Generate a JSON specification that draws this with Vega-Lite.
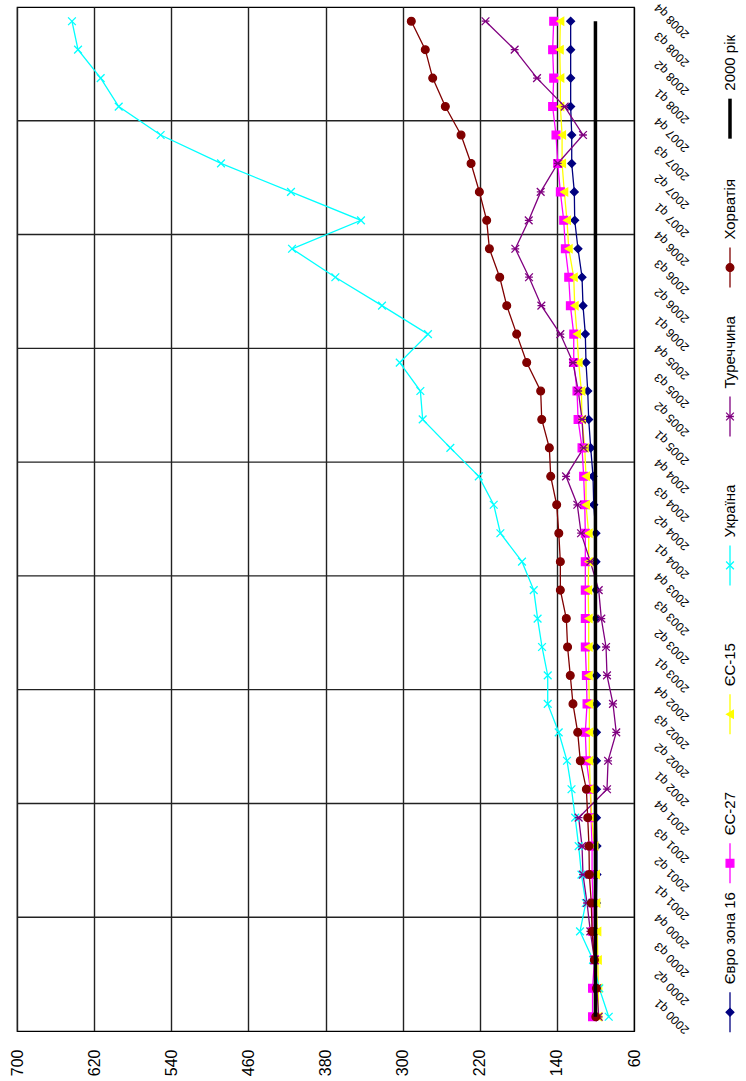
{
  "$schema": "https://vega.github.io/schema/vega-lite/v6.json",
  "background": "white",
  "padding": {"left": 8, "top": 0, "right": 0, "bottom": 0},
  "config": {
    "font": "Liberation Sans",
    "view": {"stroke": "#000", "strokeWidth": 1.2}
  },
  "spacing": 26,
  "data": {"values": [
    {"q":"2000 q1","s":"Євро зона 16","v":99},{"q":"2000 q2","s":"Євро зона 16","v":99},{"q":"2000 q3","s":"Євро зона 16","v":99.5},{"q":"2000 q4","s":"Євро зона 16","v":99.5},
    {"q":"2001 q1","s":"Євро зона 16","v":99},{"q":"2001 q2","s":"Євро зона 16","v":98.5},{"q":"2001 q3","s":"Євро зона 16","v":98.5},{"q":"2001 q4","s":"Євро зона 16","v":99},
    {"q":"2002 q1","s":"Євро зона 16","v":99},{"q":"2002 q2","s":"Євро зона 16","v":99},{"q":"2002 q3","s":"Євро зона 16","v":99},{"q":"2002 q4","s":"Євро зона 16","v":99},
    {"q":"2003 q1","s":"Євро зона 16","v":99},{"q":"2003 q2","s":"Євро зона 16","v":99.5},{"q":"2003 q3","s":"Євро зона 16","v":99.5},{"q":"2003 q4","s":"Євро зона 16","v":99.5},
    {"q":"2004 q1","s":"Євро зона 16","v":99.5},{"q":"2004 q2","s":"Євро зона 16","v":99.5},{"q":"2004 q3","s":"Євро зона 16","v":101.8},{"q":"2004 q4","s":"Євро зона 16","v":102.5},
    {"q":"2005 q1","s":"Євро зона 16","v":104.9},{"q":"2005 q2","s":"Євро зона 16","v":107},{"q":"2005 q3","s":"Євро зона 16","v":108},{"q":"2005 q4","s":"Євро зона 16","v":109.8},
    {"q":"2006 q1","s":"Євро зона 16","v":110.5},{"q":"2006 q2","s":"Євро зона 16","v":112.9},{"q":"2006 q3","s":"Євро зона 16","v":113.9},{"q":"2006 q4","s":"Євро зона 16","v":118.1},
    {"q":"2007 q1","s":"Євро зона 16","v":121.5},{"q":"2007 q2","s":"Євро зона 16","v":121.9},{"q":"2007 q3","s":"Євро зона 16","v":124.6},{"q":"2007 q4","s":"Євро зона 16","v":124.6},
    {"q":"2008 q1","s":"Євро зона 16","v":125.7},{"q":"2008 q2","s":"Євро зона 16","v":125.7},{"q":"2008 q3","s":"Євро зона 16","v":125.7},{"q":"2008 q4","s":"Євро зона 16","v":125.7},

    {"q":"2000 q1","s":"ЄС-27","v":103},{"q":"2000 q2","s":"ЄС-27","v":103},{"q":"2000 q3","s":"ЄС-27","v":101},{"q":"2000 q4","s":"ЄС-27","v":102.8},
    {"q":"2001 q1","s":"ЄС-27","v":102.5},{"q":"2001 q2","s":"ЄС-27","v":103.5},{"q":"2001 q3","s":"ЄС-27","v":103.5},{"q":"2001 q4","s":"ЄС-27","v":104.5},
    {"q":"2002 q1","s":"ЄС-27","v":105.3},{"q":"2002 q2","s":"ЄС-27","v":109.4},{"q":"2002 q3","s":"ЄС-27","v":110.5},{"q":"2002 q4","s":"ЄС-27","v":108.7},
    {"q":"2003 q1","s":"ЄС-27","v":109.4},{"q":"2003 q2","s":"ЄС-27","v":110.5},{"q":"2003 q3","s":"ЄС-27","v":110.5},{"q":"2003 q4","s":"ЄС-27","v":110.5},
    {"q":"2004 q1","s":"ЄС-27","v":110.5},{"q":"2004 q2","s":"ЄС-27","v":110.5},{"q":"2004 q3","s":"ЄС-27","v":111.1},{"q":"2004 q4","s":"ЄС-27","v":112.2},
    {"q":"2005 q1","s":"ЄС-27","v":113.9},{"q":"2005 q2","s":"ЄС-27","v":118},{"q":"2005 q3","s":"ЄС-27","v":119.1},{"q":"2005 q4","s":"ЄС-27","v":122.5},
    {"q":"2006 q1","s":"ЄС-27","v":122.5},{"q":"2006 q2","s":"ЄС-27","v":126},{"q":"2006 q3","s":"ЄС-27","v":127.7},{"q":"2006 q4","s":"ЄС-27","v":131.2},
    {"q":"2007 q1","s":"ЄС-27","v":132.9},{"q":"2007 q2","s":"ЄС-27","v":136.4},{"q":"2007 q3","s":"ЄС-27","v":139.1},{"q":"2007 q4","s":"ЄС-27","v":140.9},
    {"q":"2008 q1","s":"ЄС-27","v":144.4},{"q":"2008 q2","s":"ЄС-27","v":143.3},{"q":"2008 q3","s":"ЄС-27","v":144.4},{"q":"2008 q4","s":"ЄС-27","v":143.3},

    {"q":"2000 q1","s":"ЄС-15","v":97},{"q":"2000 q2","s":"ЄС-15","v":97},{"q":"2000 q3","s":"ЄС-15","v":97.5},{"q":"2000 q4","s":"ЄС-15","v":98},
    {"q":"2001 q1","s":"ЄС-15","v":99},{"q":"2001 q2","s":"ЄС-15","v":99.5},{"q":"2001 q3","s":"ЄС-15","v":101},{"q":"2001 q4","s":"ЄС-15","v":104},
    {"q":"2002 q1","s":"ЄС-15","v":105.3},{"q":"2002 q2","s":"ЄС-15","v":106.3},{"q":"2002 q3","s":"ЄС-15","v":106.3},{"q":"2002 q4","s":"ЄС-15","v":106.3},
    {"q":"2003 q1","s":"ЄС-15","v":107},{"q":"2003 q2","s":"ЄС-15","v":107},{"q":"2003 q3","s":"ЄС-15","v":107},{"q":"2003 q4","s":"ЄС-15","v":107.5},
    {"q":"2004 q1","s":"ЄС-15","v":107},{"q":"2004 q2","s":"ЄС-15","v":107},{"q":"2004 q3","s":"ЄС-15","v":109.8},{"q":"2004 q4","s":"ЄС-15","v":109.8},
    {"q":"2005 q1","s":"ЄС-15","v":111.1},{"q":"2005 q2","s":"ЄС-15","v":113.9},{"q":"2005 q3","s":"ЄС-15","v":114.6},{"q":"2005 q4","s":"ЄС-15","v":117.4},
    {"q":"2006 q1","s":"ЄС-15","v":119.1},{"q":"2006 q2","s":"ЄС-15","v":121.5},{"q":"2006 q3","s":"ЄС-15","v":122.5},{"q":"2006 q4","s":"ЄС-15","v":127.7},
    {"q":"2007 q1","s":"ЄС-15","v":129.5},{"q":"2007 q2","s":"ЄС-15","v":132.3},{"q":"2007 q3","s":"ЄС-15","v":134.6},{"q":"2007 q4","s":"ЄС-15","v":134.6},
    {"q":"2008 q1","s":"ЄС-15","v":136.4},{"q":"2008 q2","s":"ЄС-15","v":136.4},{"q":"2008 q3","s":"ЄС-15","v":137},{"q":"2008 q4","s":"ЄС-15","v":136.4},

    {"q":"2000 q1","s":"Україна","v":86.2},{"q":"2000 q2","s":"Україна","v":96},{"q":"2000 q3","s":"Україна","v":102.5},{"q":"2000 q4","s":"Україна","v":116},
    {"q":"2001 q1","s":"Україна","v":110},{"q":"2001 q2","s":"Україна","v":114.5},{"q":"2001 q3","s":"Україна","v":117.4},{"q":"2001 q4","s":"Україна","v":121},
    {"q":"2002 q1","s":"Україна","v":124.8},{"q":"2002 q2","s":"Україна","v":129.5},{"q":"2002 q3","s":"Україна","v":138.1},{"q":"2002 q4","s":"Україна","v":149.5},
    {"q":"2003 q1","s":"Україна","v":149.5},{"q":"2003 q2","s":"Україна","v":155.4},{"q":"2003 q3","s":"Україна","v":160},{"q":"2003 q4","s":"Україна","v":164},
    {"q":"2004 q1","s":"Україна","v":176.2},{"q":"2004 q2","s":"Україна","v":198.6},{"q":"2004 q3","s":"Україна","v":205.5},{"q":"2004 q4","s":"Україна","v":221},
    {"q":"2005 q1","s":"Україна","v":250.5},{"q":"2005 q2","s":"Україна","v":279.2},{"q":"2005 q3","s":"Україна","v":281.6},{"q":"2005 q4","s":"Україна","v":303},
    {"q":"2006 q1","s":"Україна","v":273.7},{"q":"2006 q2","s":"Україна","v":321.4},{"q":"2006 q3","s":"Україна","v":369.8},{"q":"2006 q4","s":"Україна","v":414.7},
    {"q":"2007 q1","s":"Україна","v":343.2},{"q":"2007 q2","s":"Україна","v":415.8},{"q":"2007 q3","s":"Україна","v":488.4},{"q":"2007 q4","s":"Україна","v":551},
    {"q":"2008 q1","s":"Україна","v":594.5},{"q":"2008 q2","s":"Україна","v":613.2},{"q":"2008 q3","s":"Україна","v":636.7},{"q":"2008 q4","s":"Україна","v":643},

    {"q":"2000 q1","s":"Туреччина","v":96.6},{"q":"2000 q2","s":"Туреччина","v":98.5},{"q":"2000 q3","s":"Туреччина","v":101},{"q":"2000 q4","s":"Туреччина","v":105.3},
    {"q":"2001 q1","s":"Туреччина","v":108.7},{"q":"2001 q2","s":"Туреччина","v":112.9},{"q":"2001 q3","s":"Туреччина","v":113.9},{"q":"2001 q4","s":"Туреччина","v":117.4},
    {"q":"2002 q1","s":"Туреччина","v":88},{"q":"2002 q2","s":"Туреччина","v":86.9},{"q":"2002 q3","s":"Туреччина","v":78.4},{"q":"2002 q4","s":"Туреччина","v":81.8},
    {"q":"2003 q1","s":"Туреччина","v":88},{"q":"2003 q2","s":"Туреччина","v":89},{"q":"2003 q3","s":"Туреччина","v":93.9},{"q":"2003 q4","s":"Туреччина","v":96.6},
    {"q":"2004 q1","s":"Туреччина","v":105.3},{"q":"2004 q2","s":"Туреччина","v":114.9},{"q":"2004 q3","s":"Туреччина","v":118.8},{"q":"2004 q4","s":"Туреччина","v":130.5},
    {"q":"2005 q1","s":"Туреччина","v":112.2},{"q":"2005 q2","s":"Туреччина","v":113.9},{"q":"2005 q3","s":"Туреччина","v":117.8},{"q":"2005 q4","s":"Туреччина","v":123.3},
    {"q":"2006 q1","s":"Туреччина","v":136.4},{"q":"2006 q2","s":"Туреччина","v":156.1},{"q":"2006 q3","s":"Туреччина","v":168.9},{"q":"2006 q4","s":"Туреччина","v":183.1},
    {"q":"2007 q1","s":"Туреччина","v":169.2},{"q":"2007 q2","s":"Туреччина","v":156.8},{"q":"2007 q3","s":"Туреччина","v":139.1},{"q":"2007 q4","s":"Туреччина","v":112.9},
    {"q":"2008 q1","s":"Туреччина","v":131.9},{"q":"2008 q2","s":"Туреччина","v":160.6},{"q":"2008 q3","s":"Туреччина","v":183.8},{"q":"2008 q4","s":"Туреччина","v":214},

    {"q":"2000 q1","s":"Хорватія","v":99.6},{"q":"2000 q2","s":"Хорватія","v":99},{"q":"2000 q3","s":"Хорватія","v":101.1},{"q":"2000 q4","s":"Хорватія","v":103.5},
    {"q":"2001 q1","s":"Хорватія","v":104.3},{"q":"2001 q2","s":"Хорватія","v":106.3},{"q":"2001 q3","s":"Хорватія","v":106.7},{"q":"2001 q4","s":"Хорватія","v":108},
    {"q":"2002 q1","s":"Хорватія","v":109.4},{"q":"2002 q2","s":"Хорватія","v":115.7},{"q":"2002 q3","s":"Хорватія","v":118.4},{"q":"2002 q4","s":"Хорватія","v":123.3},
    {"q":"2003 q1","s":"Хорватія","v":126.1},{"q":"2003 q2","s":"Хорватія","v":128.9},{"q":"2003 q3","s":"Хорватія","v":130.2},{"q":"2003 q4","s":"Хорватія","v":136.4},
    {"q":"2004 q1","s":"Хорватія","v":136.4},{"q":"2004 q2","s":"Хорватія","v":138},{"q":"2004 q3","s":"Хорватія","v":140.2},{"q":"2004 q4","s":"Хорватія","v":146.4},
    {"q":"2005 q1","s":"Хорватія","v":147.8},{"q":"2005 q2","s":"Хорватія","v":155.7},{"q":"2005 q3","s":"Хорватія","v":156.8},{"q":"2005 q4","s":"Хорватія","v":171.3},
    {"q":"2006 q1","s":"Хорватія","v":181.7},{"q":"2006 q2","s":"Хорватія","v":192},{"q":"2006 q3","s":"Хорватія","v":199.3},{"q":"2006 q4","s":"Хорватія","v":210},
    {"q":"2007 q1","s":"Хорватія","v":212.8},{"q":"2007 q2","s":"Хорватія","v":220.4},{"q":"2007 q3","s":"Хорватія","v":229},{"q":"2007 q4","s":"Хорватія","v":239.4},
    {"q":"2008 q1","s":"Хорватія","v":255.7},{"q":"2008 q2","s":"Хорватія","v":268.8},{"q":"2008 q3","s":"Хорватія","v":276.5},{"q":"2008 q4","s":"Хорватія","v":291},

    {"q":"2000 q1","s":"2000 рік","v":100},{"q":"2000 q2","s":"2000 рік","v":100},{"q":"2000 q3","s":"2000 рік","v":100},{"q":"2000 q4","s":"2000 рік","v":100},
    {"q":"2001 q1","s":"2000 рік","v":100},{"q":"2001 q2","s":"2000 рік","v":100},{"q":"2001 q3","s":"2000 рік","v":100},{"q":"2001 q4","s":"2000 рік","v":100},
    {"q":"2002 q1","s":"2000 рік","v":100},{"q":"2002 q2","s":"2000 рік","v":100},{"q":"2002 q3","s":"2000 рік","v":100},{"q":"2002 q4","s":"2000 рік","v":100},
    {"q":"2003 q1","s":"2000 рік","v":100},{"q":"2003 q2","s":"2000 рік","v":100},{"q":"2003 q3","s":"2000 рік","v":100},{"q":"2003 q4","s":"2000 рік","v":100},
    {"q":"2004 q1","s":"2000 рік","v":100},{"q":"2004 q2","s":"2000 рік","v":100},{"q":"2004 q3","s":"2000 рік","v":100},{"q":"2004 q4","s":"2000 рік","v":100},
    {"q":"2005 q1","s":"2000 рік","v":100},{"q":"2005 q2","s":"2000 рік","v":100},{"q":"2005 q3","s":"2000 рік","v":100},{"q":"2005 q4","s":"2000 рік","v":100},
    {"q":"2006 q1","s":"2000 рік","v":100},{"q":"2006 q2","s":"2000 рік","v":100},{"q":"2006 q3","s":"2000 рік","v":100},{"q":"2006 q4","s":"2000 рік","v":100},
    {"q":"2007 q1","s":"2000 рік","v":100},{"q":"2007 q2","s":"2000 рік","v":100},{"q":"2007 q3","s":"2000 рік","v":100},{"q":"2007 q4","s":"2000 рік","v":100},
    {"q":"2008 q1","s":"2000 рік","v":100},{"q":"2008 q2","s":"2000 рік","v":100},{"q":"2008 q3","s":"2000 рік","v":100},{"q":"2008 q4","s":"2000 рік","v":100}
  ]},
  "hconcat": [
    {
      "width": 617,
      "height": 1024,
      "encoding": {
        "y": {
          "field": "q", "type": "ordinal", "sort": "descending", "bandPosition": 0.5,
          "scale": {"type": "band", "paddingInner": 0, "paddingOuter": 0},
          "axis": {
            "orient": "right", "title": null, "grid": false,
            "ticks": true, "tickSize": 5, "tickOpacity": 0,
            "labelAngle": 225, "labelAlign": "center", "labelBaseline": "middle",
            "labelPadding": 32, "labelFontSize": 12, "labelColor": "#000",
            "labelOverlap": false, "labelBound": false, "domainColor": "#000"
          }
        },
        "x": {
          "field": "v", "type": "quantitative",
          "scale": {"domain": [60, 700], "reverse": true, "nice": false, "zero": false},
          "axis": {
            "values": [60, 140, 220, 300, 380, 460, 540, 620, 700], "title": null,
            "grid": true, "gridColor": "#222", "gridWidth": 1.4,
            "labelAngle": 270, "ticks": false, "tickSize": 0, "labelPadding": 18,
            "labelFontSize": 16, "labelColor": "#000", "domainColor": "#000"
          }
        }
      },
      "layer": [
        {
          "transform": [{"filter": "datum.s == '2000 рік' && indexof(datum.q, 'q1') >= 0 && datum.q != '2000 q1'"}],
          "mark": {"type": "rule", "color": "#222", "strokeWidth": 1.4},
          "encoding": {
            "y": {"field": "q", "type": "ordinal", "sort": "descending", "bandPosition": 1},
            "x": null
          }
        },
        {
          "transform": [{"filter": "datum.s != '2000 рік'"}],
          "mark": {"type": "line", "strokeWidth": 1.3},
          "encoding": {
            "order": {"field": "q", "type": "ordinal"},
            "color": {"field": "s", "type": "nominal", "legend": null,
              "scale": {"domain": ["Євро зона 16","ЄС-27","ЄС-15","Україна","Туреччина","Хорватія","2000 рік"],
                        "range": ["#000080","#FF00FF","#FFFF00","#00FFFF","#800080","#800000","#000000"]}}
          }
        },
        {
          "transform": [{"filter": "datum.s != '2000 рік'"}],
          "mark": {"type": "point", "filled": true, "size": 60, "strokeWidth": 1.3, "opacity": 1},
          "encoding": {
            "color": {"field": "s", "type": "nominal", "legend": null},
            "stroke": {"field": "s", "type": "nominal", "legend": null,
              "scale": {"domain": ["Євро зона 16","ЄС-27","ЄС-15","Україна","Туреччина","Хорватія","2000 рік"],
                        "range": ["#000080","#FF00FF","#FFFF00","#00FFFF","#800080","#800000","#000000"]}},
            "shape": {"field": "s", "type": "nominal", "legend": null,
              "scale": {"domain": ["Євро зона 16","ЄС-27","ЄС-15","Україна","Туреччина","Хорватія","2000 рік"],
                        "range": ["diamond","square","triangle-left","M-1,-1L1,1M-1,1L1,-1","M-1,-1L1,1M-1,1L1,-1M-1,0L1,0","circle","circle"]}}
          }
        },
        {
          "transform": [{"filter": "datum.s == '2000 рік'"}],
          "mark": {"type": "line", "strokeWidth": 3.5, "color": "#000"},
          "encoding": {"order": {"field": "q", "type": "ordinal"}}
        }
      ]
    },
    {
      "width": 24,
      "height": 1024,
      "view": {"stroke": null},
      "transform": [{"filter": "datum.q == '2008 q4'"}],
      "encoding": {
        "y": {"field": "s", "type": "nominal", "axis": null,
          "scale": {"type": "point", "domain": ["2000 рік","Хорватія","Туреччина","Україна","ЄС-15","ЄС-27","Євро зона 16"], "padding": 0.438, "align": 0.856}},
        "x": {"datum": 0, "type": "quantitative", "scale": {"domain": [-1, 1]}, "axis": null}
      },
      "layer": [
        {
          "mark": {"type": "rule", "yOffset": -20, "y2Offset": 20},
          "encoding": {
            "y2": {"field": "s"},
            "color": {"field": "s", "type": "nominal", "legend": null},
            "strokeWidth": {"condition": {"test": "datum.s == '2000 рік'", "value": 3.5}, "value": 1.3}
          }
        },
        {
          "transform": [{"filter": "datum.s != '2000 рік'"}],
          "mark": {"type": "point", "filled": true, "size": 60, "strokeWidth": 1.3, "opacity": 1},
          "encoding": {
            "color": {"field": "s", "type": "nominal", "legend": null},
            "stroke": {"field": "s", "type": "nominal", "legend": null},
            "shape": {"field": "s", "type": "nominal", "legend": null}
          }
        },
        {
          "mark": {"type": "text", "angle": 270, "align": "left", "baseline": "middle", "yOffset": -28, "fontSize": 15, "color": "#000"},
          "encoding": {"text": {"field": "s"}}
        }
      ]
    }
  ]
}
